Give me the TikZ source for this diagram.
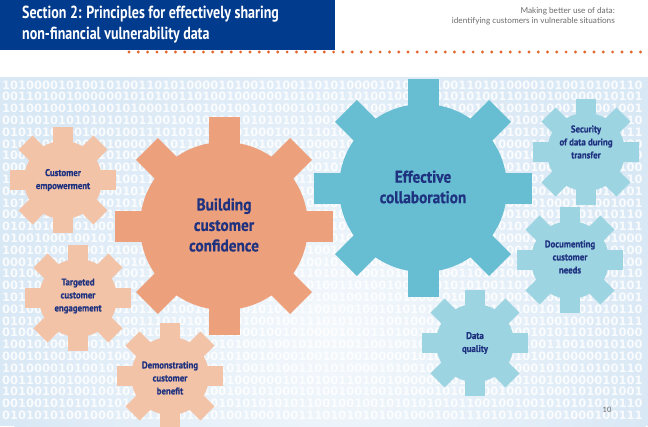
\documentclass[tikz,border=0pt]{standalone}
\usepackage{fontspec}
\setmainfont{PT Sans}
\newfontfamily\headfont[FakeStretch=0.8]{PT Sans}
\newfontfamily\cogfont[FakeStretch=0.9, FakeBold=0.5]{PT Sans}
\newfontfamily\notefont{Lato}
\newfontfamily\digitfont{DejaVu Sans}
\definecolor{hdblue}{HTML}{013B8E}
\definecolor{navy}{HTML}{1E3280}
\definecolor{dotor}{HTML}{E2652A}
\definecolor{bgblue}{HTML}{D9E8F5}
\definecolor{orBig}{HTML}{EDA07C}
\definecolor{orSmall}{HTML}{F3C3A8}
\definecolor{blBig}{HTML}{67BDD2}
\definecolor{blSmall}{HTML}{9DD4E2}
\definecolor{note}{HTML}{6A6A6A}
\tikzset{
  pics/cog/.style n args={4}{code={
    \fill[#4] (0,0) circle[radius=#1];
    \foreach \a in {0,45,...,315}
      \fill[#4, rotate=\a] (-#3/2,0) rectangle (#3/2,#2);
  }}
}

\begin{document}
\begin{tikzpicture}[x=1pt, y=-1pt,
   hdtxt/.style={font=\headfont\bfseries\fontsize{17.5}{20.5}\selectfont, text=white, align=left, inner sep=0, anchor=north west},
   notetxt/.style={font=\notefont\fontsize{8.2}{10.5}\selectfont, text=note, align=right, inner sep=0, anchor=north east},
   bits/.style={font=\digitfont\bfseries\fontsize{11.5}{11.5}\selectfont, text=white, text opacity=0.85, inner sep=0, anchor=west},
   cogtxt/.style={font=\cogfont\bfseries\fontsize{9.8}{13}\selectfont, text=navy, align=center, inner sep=0},
   bigtxt/.style={cogtxt, font=\cogfont\bfseries\fontsize{17}{20.5}\selectfont},
   dots/.style={dotor, line width=3.2pt, line cap=round, dash pattern=on 0pt off 9.3pt}]
  \useasboundingbox (0,0) rectangle (648,426);
  % header
  \fill[hdblue] (0,0) rectangle (335,50);
  \node[hdtxt] (title) at (22,6) {Section 2: Principles for effectively sharing\\non-financial vulnerability data};
  \node[notetxt] (sub) at (615,7) {Making better use of data:\\identifying customers in vulnerable situations};
  \coordinate (dotA) at (129,52);
  \coordinate (dotB) at (648,52);
  \draw[dots] (dotA) -- (dotB);
  % binary background
  \fill[bgblue] (0,77) rectangle (648,426);
  \begin{scope}
    \clip (0,77) rectangle (648,426);
    \shade[inner color=bgblue!30!white, outer color=bgblue] (330,330) circle[radius=330];
  \end{scope}
  \def\rows{{"10100001010010100110101000010100101001101010000101001010011010100001010010100110",
    "00110100100000010101001101001000000101010011010010000001010100110100100000010101",
    "10100100100100101000101001001001010001010010010010100010100100100101000101001001",
    "00100101010101010110010010010101010101100100100101010101011001001001010101010110",
    "01010101001000100111010101010010001001110101010100100010011101010101001000100111",
    "01001000100101000010101101001000100101000010101101001000100101000010101101001000",
    "10010100010010100100110010010100010010100100110010010100010010100100110010010100",
    "00010100100001001010010000010100100001001010010000010100100001001010010000010100"}}
  \foreach \i in {0,...,28} {
    \pgfmathsetmacro\s{\rows[mod(\i,8)]}
    \node[bits] (row\i) at (2,85+11.8*\i) {\s};
  }
  % big cogs
  \pic at (224,226) {cog={84}{109}{31}{orBig}};
  \pic at (423,188) {cog={84}{109}{31}{blBig}};
  % small cogs
  \pic at (63,180) {cog={39}{53}{20}{orSmall}};
  \pic at (78,298) {cog={39}{53}{20}{orSmall}};
  \pic at (170,376) {cog={39}{53}{20}{orSmall}};
  \pic at (586,152) {cog={39}{53}{20}{blSmall}};
  \pic at (570,260) {cog={39}{53}{20}{blSmall}};
  \pic at (475,343) {cog={39}{53}{20}{blSmall}};
  % labels
  \node[bigtxt] (build) at (224,225) {Building\\customer\\confidence};
  \node[bigtxt] (collab) at (423,187) {Effective\\collaboration};
  \node[cogtxt] (empower) at (63,180) {Customer\\empowerment};
  \node[cogtxt] (engage) at (78,296) {Targeted\\customer\\engagement};
  \node[cogtxt] (benefit) at (170,378) {Demonstrating\\customer\\benefit};
  \node[cogtxt] (secure) at (586,142) {Security\\of data during\\transfer};
  \node[cogtxt] (needs) at (570,257) {Documenting\\customer\\needs};
  \node[cogtxt] (quality) at (475,343) {Data\\quality};
  \node[font=\notefont\fontsize{7.5}{9}\selectfont, text=note, inner sep=0] (page) at (607,410) {10};
\end{tikzpicture}
\end{document}
